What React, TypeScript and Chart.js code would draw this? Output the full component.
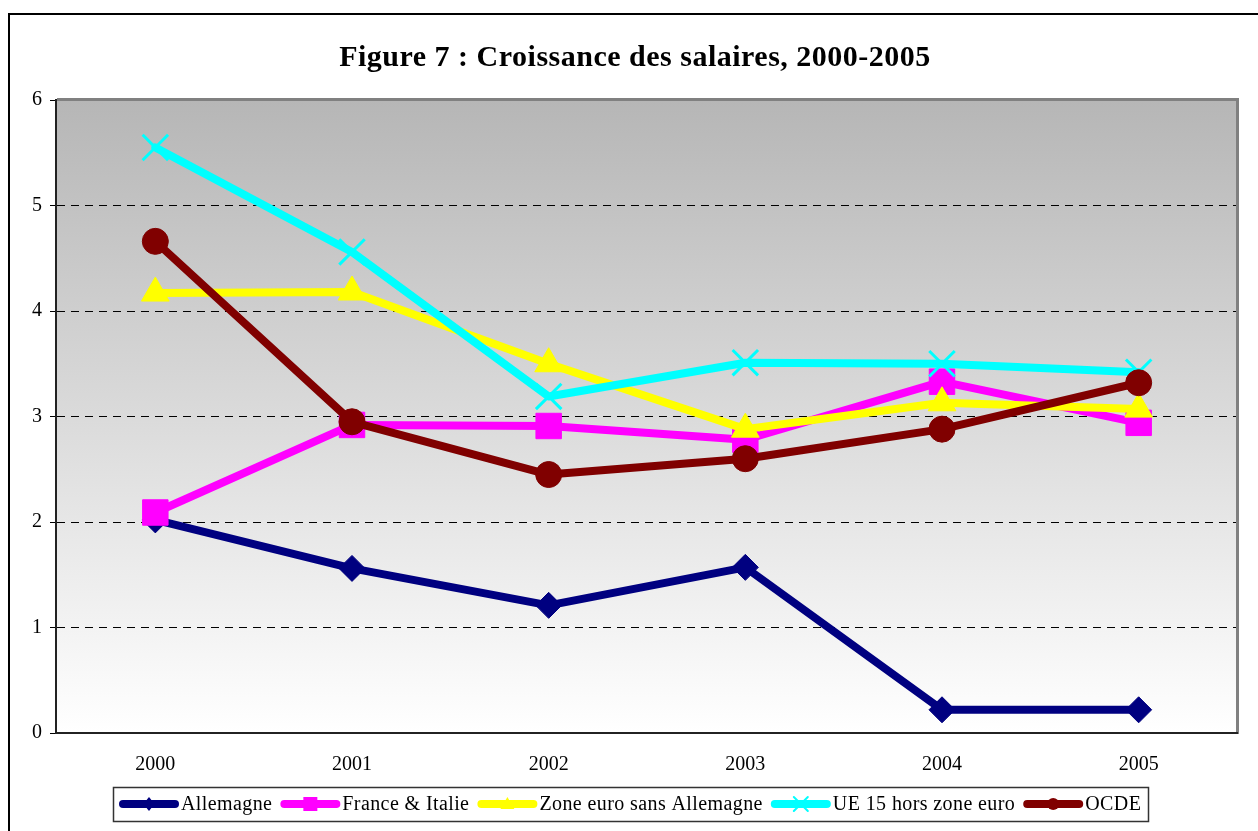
import React, { useEffect, useRef } from "react";
import { Chart, registerables } from "chart.js";

Chart.register(...registerables);

const TITLE = "Figure 7 : Croissance des salaires, 2000-2005";
const years = ["2000", "2001", "2002", "2003", "2004", "2005"];
const allemagne = [2.02, 1.56, 1.21, 1.57, 0.22, 0.22];
const franceItalie = [2.09, 2.92, 2.91, 2.78, 3.33, 2.94];
const zoneEuroSansAllemagne = [4.17, 4.18, 3.5, 2.88, 3.13, 3.07];
const ue15HorsZoneEuro = [5.55, 4.56, 3.19, 3.51, 3.5, 3.42];
const ocde = [4.66, 2.95, 2.45, 2.6, 2.88, 3.32];
const seriesLabels = [
  "Allemagne",
  "France & Italie",
  "Zone euro sans Allemagne",
  "UE 15 hors zone euro",
  "OCDE",
];
const seriesColors = ["#000080", "#FF00FF", "#FFFF00", "#00FFFF", "#800000"];
const yMin = 0;
const yMax = 6;
const yStep = 1;

const SERIF = '"Liberation Serif", "DejaVu Serif", serif';

function drawMarker(ctx: CanvasRenderingContext2D, style: string, x: number, y: number, r: number, color: string) {
  ctx.save();
  ctx.fillStyle = color;
  ctx.strokeStyle = color;
  ctx.beginPath();
  if (style === "rectRot") {
    ctx.moveTo(x, y - r);
    ctx.lineTo(x + r * 0.8, y);
    ctx.lineTo(x, y + r);
    ctx.lineTo(x - r * 0.8, y);
    ctx.closePath();
    ctx.fill();
  } else if (style === "rect") {
    ctx.rect(x - r, y - r, 2 * r, 2 * r);
    ctx.fill();
  } else if (style === "triangle") {
    ctx.moveTo(x, y - r);
    ctx.lineTo(x + r, y + r * 0.7);
    ctx.lineTo(x - r, y + r * 0.7);
    ctx.closePath();
    ctx.fill();
  } else if (style === "crossRot") {
    ctx.lineWidth = 2;
    ctx.moveTo(x - r, y - r);
    ctx.lineTo(x + r, y + r);
    ctx.moveTo(x + r, y - r);
    ctx.lineTo(x - r, y + r);
    ctx.stroke();
  } else {
    ctx.arc(x, y, r, 0, Math.PI * 2);
    ctx.fill();
  }
  ctx.restore();
}

const legendStyles = ["rectRot", "rect", "triangle", "crossRot", "circle"];
const legendMarkerSizes = [7, 7, 7, 7, 6];

const decorPlugin = {
  id: "decor",
  beforeDraw(chart: any) {
    const { ctx, chartArea, width, height } = chart;
    ctx.save();
    ctx.fillStyle = "#ffffff";
    ctx.fillRect(0, 0, width, height);
    // outer frame
    ctx.fillStyle = "#000000";
    ctx.fillRect(8, 13, width - 8, 2);
    ctx.fillRect(8, 13, 2, height - 13);
    // title
    ctx.font = "bold 30px " + SERIF;
    (ctx as any).letterSpacing = "0.5px";
    ctx.textAlign = "center";
    ctx.textBaseline = "middle";
    ctx.fillStyle = "#000000";
    ctx.fillText(TITLE, 635, 58);
    (ctx as any).letterSpacing = "0px";
    // plot background gradient
    const g = ctx.createLinearGradient(0, chartArea.top, 0, chartArea.bottom);
    g.addColorStop(0, "#b6b6b6");
    g.addColorStop(1, "#ffffff");
    ctx.fillStyle = g;
    ctx.fillRect(chartArea.left, chartArea.top, chartArea.right - chartArea.left, chartArea.bottom - chartArea.top);
    ctx.restore();
  },
  beforeDatasetsDraw(chart: any) {
    const { ctx, chartArea } = chart;
    const { left, right, top, bottom } = chartArea;
    ctx.save();
    ctx.fillStyle = "#808080";
    ctx.fillRect(left, top - 2, right - left + 2, 3);
    ctx.fillRect(right - 1, top - 2, 3, bottom - top + 3);
    ctx.fillStyle = "#222222";
    ctx.fillRect(left - 2, top - 1, 2, bottom - top + 2);
    ctx.fillRect(left - 2, bottom - 1, right - left + 3, 2);
    ctx.restore();
  },
  afterDraw(chart: any) {
    const { ctx } = chart;
    ctx.save();
    ctx.font = "20px " + SERIF;
    (ctx as any).letterSpacing = "0.4px";
    ctx.textBaseline = "middle";
    ctx.textAlign = "left";
    const lineLen = 60;
    const gapAfterLine = 2;
    const itemGap = 8;
    const widths = seriesLabels.map((l) => ctx.measureText(l).width);
    const total = widths.reduce((a, w) => a + lineLen + gapAfterLine + w, 0) + itemGap * (seriesLabels.length - 1);
    const padX = 6;
    const cx = 630.5;
    const boxLeft = Math.round(cx - total / 2 - padX);
    const boxRight = Math.round(cx + total / 2 + padX);
    const boxTop = 787;
    const boxBottom = 821;
    ctx.strokeStyle = "#333333";
    ctx.lineWidth = 1.5;
    ctx.strokeRect(boxLeft + 0.5, boxTop + 0.5, boxRight - boxLeft, boxBottom - boxTop);
    const cy = (boxTop + boxBottom) / 2;
    let x = boxLeft + padX;
    seriesLabels.forEach((label, i) => {
      const color = seriesColors[i];
      ctx.strokeStyle = color;
      ctx.lineWidth = 8;
      ctx.lineCap = "round";
      ctx.beginPath();
      ctx.moveTo(x + 4, cy);
      ctx.lineTo(x + lineLen - 4, cy);
      ctx.stroke();
      drawMarker(ctx, legendStyles[i], x + lineLen / 2, cy, legendMarkerSizes[i], color);
      ctx.fillStyle = "#000000";
      ctx.fillText(label, x + lineLen + gapAfterLine, cy + 1);
      x += lineLen + gapAfterLine + widths[i] + itemGap;
    });
    ctx.restore();
  },
};

export default function App() {
  const canvasRef = useRef<HTMLCanvasElement | null>(null);

  useEffect(() => {
    const canvas = canvasRef.current;
    if (!canvas) return;
    const mk = (i: number, data: number[], pointStyle: string, radius: number, extra: any = {}) => ({
      label: seriesLabels[i],
      data,
      borderColor: seriesColors[i],
      backgroundColor: seriesColors[i],
      borderWidth: 8,
      borderJoinStyle: "round",
      borderCapStyle: "round",
      pointStyle,
      pointRadius: radius,
      pointHoverRadius: radius,
      pointBackgroundColor: seriesColors[i],
      pointBorderColor: seriesColors[i],
      pointBorderWidth: 1,
      tension: 0,
      order: 5 - i,
      ...extra,
    });
    const chart = new Chart(canvas, {
      type: "line",
      data: {
        labels: years,
        datasets: [
          mk(0, allemagne, "rectRot", 13),
          mk(1, franceItalie, "rect", 18),
          mk(2, zoneEuroSansAllemagne, "triangle", 16),
          mk(3, ue15HorsZoneEuro, "crossRot", 18, { pointBorderWidth: 3 }),
          mk(4, ocde, "circle", 13),
        ] as any,
      },
      options: {
        responsive: false,
        animation: false,
        devicePixelRatio: 1,
        layout: { padding: { top: 100, right: 20, left: 0, bottom: 0 } },
        plugins: {
          legend: { display: false },
          title: { display: false },
          tooltip: { enabled: false },
        },
        scales: {
          x: {
            type: "category",
            offset: true,
            grid: { display: false, drawTicks: false },
            border: { display: false },
            ticks: {
              color: "#000",
              padding: 20,
              font: { family: SERIF, size: 20 },
            },
            afterFit: (s: any) => {
              s.height = 98;
            },
          },
          y: {
            min: yMin,
            max: yMax,
            ticks: {
              stepSize: yStep,
              color: "#000",
              padding: 8,
              font: { family: SERIF, size: 20 },
            },
            grid: {
              color: (c: any) =>
                c.tick && (c.tick.value === yMin || c.tick.value === yMax) ? "rgba(0,0,0,0)" : "#000000",
              lineWidth: 1,
              drawTicks: true,
              tickLength: 7,
              tickColor: "#000000",
              tickWidth: 1,
              tickBorderDash: [],
            },
            border: { display: false, dash: [8, 6] },
            afterFit: (s: any) => {
              s.width = 57;
            },
          },
        },
      },
      plugins: [decorPlugin],
    } as any);
    return () => chart.destroy();
  }, []);

  return (
    <div style={{ position: "fixed", left: 0, top: 0, width: 1258, height: 831, overflow: "hidden", background: "#fff" }}>
      <canvas ref={canvasRef} width={1258} height={831} style={{ display: "block", width: 1258, height: 831 }} />
    </div>
  );
}
